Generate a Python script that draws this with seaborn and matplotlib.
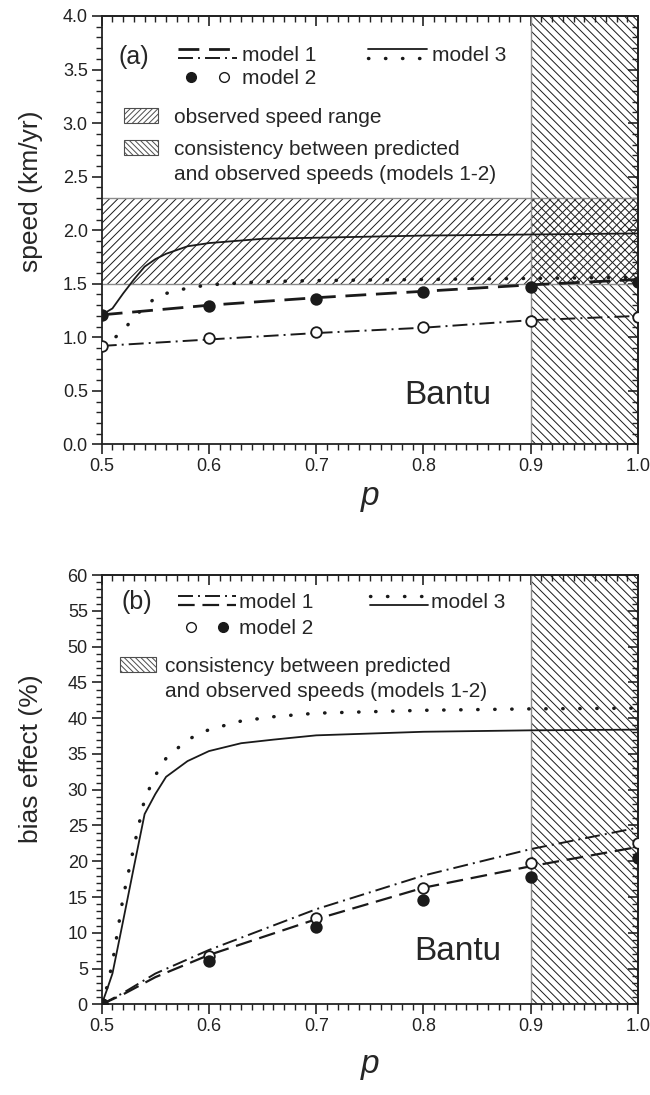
"""
Velocidad del frente (a) y efecto del sesgo (b) frente a p, caso Bantu.
"""
import matplotlib
matplotlib.use("Agg")
import matplotlib.pyplot as plt
import matplotlib.patches as mpatches
from matplotlib.lines import Line2D
from matplotlib.legend_handler import HandlerBase, HandlerTuple, HandlerPatch
from matplotlib.ticker import MultipleLocator
import seaborn as sns

# ============================================================
# DATOS
# ============================================================
p_marks = [0.5, 0.6, 0.7, 0.8, 0.9, 1.0]

# panel (a): speed (km/yr)
a_m1_dash = [1.21, 1.30, 1.37, 1.43, 1.49, 1.54]
a_m1_dashdot = [0.92, 0.98, 1.04, 1.09, 1.16, 1.20]
a_m2_filled = [1.21, 1.29, 1.36, 1.42, 1.47, 1.52]
a_m2_open = [0.92, 0.99, 1.05, 1.10, 1.15, 1.19]
a_m3_p = [0.5, 0.51, 0.52, 0.53, 0.54, 0.55, 0.56, 0.58, 0.6, 0.65, 0.7, 0.8, 0.9, 1.0]
a_m3_solid = [1.21, 1.27, 1.41, 1.54, 1.66, 1.73, 1.78, 1.85, 1.88, 1.92, 1.93, 1.95, 1.96, 1.97]
a_m3_dotted = [0.92, 0.98, 1.06, 1.19, 1.28, 1.37, 1.41, 1.46, 1.49, 1.52, 1.53, 1.54, 1.55, 1.56]
obs_speed = (1.5, 2.3)

# panel (b): bias effect (%)
b_m1_p = [0.5, 0.52, 0.55, 0.6, 0.7, 0.8, 0.9, 1.0]
b_m1_dashdot = [0, 1.6, 4.3, 7.6, 13.3, 18.0, 21.7, 24.7]
b_m1_dash = [0, 1.4, 3.8, 6.9, 11.9, 16.3, 19.3, 22.0]
b_m2_open = [0, 6.8, 12.0, 16.2, 19.7, 22.5]
b_m2_filled = [0, 6.0, 10.8, 14.6, 17.8, 20.5]
b_m3_p = [0.5, 0.505, 0.51, 0.52, 0.53, 0.54, 0.55, 0.56, 0.58, 0.6, 0.63, 0.66, 0.7, 0.8, 0.9, 1.0]
b_m3_dotted = [0, 2.5, 5.8, 15.0, 22.0, 28.7, 32.0, 34.4, 37.0, 38.4, 39.6, 40.2, 40.7, 41.1, 41.3, 41.4]
b_m3_solid = [0, 2.1, 4.3, 11.7, 19.2, 26.6, 29.4, 31.8, 34.0, 35.4, 36.5, 37.0, 37.6, 38.1, 38.3, 38.4]

consistency_p = (0.9, 1.0)

DASH = (0, (7.5, 3.5))
DASHDOT = (0, (7.7, 2.6, 1, 2.6))
DOT = (0, (0.1, 4.8))

# ============================================================
# ESTILO
# ============================================================
sns.set_theme(style="ticks")
plt.rcParams["font.family"] = ["Liberation Sans", "DejaVu Sans"]
plt.rcParams["hatch.linewidth"] = 0.7
plt.rcParams["axes.linewidth"] = 1.3


class StackedLines(HandlerBase):
    """Dibuja varias muestras de línea apiladas verticalmente."""
    def create_artists(self, legend, orig_handle, xdescent, ydescent,
                       width, height, fontsize, trans):
        arts = []
        n = len(orig_handle)
        for k, h in enumerate(orig_handle):
            y = height * (0.8 - 0.6 * k / max(n - 1, 1)) - ydescent
            ln = Line2D([-xdescent, width - xdescent], [y, y])
            ln.update_from(h)
            ln.set_transform(trans)
            arts.append(ln)
        return arts


def raised_box(legend, orig_handle, xdescent, ydescent, width, height, fontsize):
    return mpatches.Rectangle((-xdescent, -ydescent + 0.72 * fontsize), width, height)


def style_axes(ax, ymax, ymajor, yminor, xpad):
    ax.set_xlim(0.5, 1.0)
    ax.set_ylim(0, ymax)
    ax.xaxis.set_major_locator(MultipleLocator(0.1))
    ax.xaxis.set_minor_locator(MultipleLocator(0.01))
    ax.yaxis.set_major_locator(MultipleLocator(ymajor))
    ax.yaxis.set_minor_locator(MultipleLocator(yminor))
    ax.tick_params(which="major", direction="out", length=7, width=1.2,
                   labelsize=13, colors="#222222", pad=3)
    ax.tick_params(which="minor", direction="out", length=4, width=1.0, colors="#222222")
    for s in ax.spines.values():
        s.set_visible(True)
        s.set_color("#222222")
    # ejes espejo con marcas hacia dentro
    sx = ax.secondary_xaxis("top")
    sx.xaxis.set_major_locator(MultipleLocator(0.1))
    sx.xaxis.set_minor_locator(MultipleLocator(0.01))
    sx.tick_params(which="major", direction="in", length=7, width=1.2, labeltop=False, colors="#222222")
    sx.tick_params(which="minor", direction="in", length=4, width=1.0, colors="#222222")
    sy = ax.secondary_yaxis("right")
    sy.yaxis.set_major_locator(MultipleLocator(ymajor))
    sy.yaxis.set_minor_locator(MultipleLocator(yminor))
    sy.tick_params(which="major", direction="in", length=7, width=1.2, labelright=False, colors="#222222")
    sy.tick_params(which="minor", direction="in", length=4, width=1.0, colors="#222222")
    ax.set_xlabel("p", fontsize=24, style="italic", labelpad=xpad)


def line(ax, x, y, ls, lw):
    sns.lineplot(x=x, y=y, ax=ax, color="k", linestyle=ls, lw=lw,
                 dash_capstyle="round" if ls is DOT else "butt",
                 sort=False, estimator=None, zorder=3)


def dots(ax, y, filled):
    sns.scatterplot(x=p_marks, y=y, ax=ax, marker="o", s=58,
                    color="k" if filled else "white", edgecolor="k",
                    linewidth=1.3, zorder=5)


def dot_handle():
    return Line2D([], [], color="k", lw=2.5, linestyle=DOT, dash_capstyle="round")


fig = plt.figure(figsize=(6.5, 10.95), dpi=100)
ax_a = fig.add_axes([0.1565, 0.5941, 0.825, 0.3913])
ax_b = fig.add_axes([0.1565, 0.0828, 0.825, 0.3920])

leg_font = 15
hatch_obs = mpatches.Patch(facecolor="white", edgecolor="0.3", lw=0.8, hatch="//////")
hatch_con = mpatches.Patch(facecolor="white", edgecolor="0.3", lw=0.8, hatch="\\\\\\\\\\\\")

# ============================================================
# (a) VELOCIDAD
# ============================================================
ax = ax_a
ax.axhspan(*obs_speed, facecolor="none", edgecolor="k", lw=0, hatch="////", zorder=1)
ax.axvspan(*consistency_p, facecolor="none", edgecolor="k", lw=0, hatch="\\\\\\\\", zorder=1)
for yv in obs_speed:
    ax.axhline(yv, color="0.55", lw=1.0, zorder=2)
ax.axvline(consistency_p[0], color="0.55", lw=1.0, zorder=2)

line(ax, p_marks, a_m1_dash, DASH, 2.0)
line(ax, p_marks, a_m1_dashdot, DASHDOT, 1.4)
line(ax, a_m3_p, a_m3_solid, "-", 1.3)
line(ax, a_m3_p, a_m3_dotted, DOT, 2.5)
dots(ax, a_m2_filled, True)
dots(ax, a_m2_open, False)

style_axes(ax, 4.0, 0.5, 0.1, 4)
ax.yaxis.set_major_formatter(plt.FormatStrFormatter("%.1f"))
ax.set_ylabel("speed (km/yr)", fontsize=19)
ax.yaxis.set_label_coords(-0.11, 0.59)

ax.text(0.53, 3.62, "(a)", fontsize=18, ha="center", va="center")
ax.text(0.823, 0.46, "Bantu", fontsize=24, ha="center", va="center")

h_m1 = (Line2D([], [], color="k", lw=2.0, linestyle=DASH),
        Line2D([], [], color="k", lw=1.4, linestyle=DASHDOT))
h_m2 = (Line2D([], [], color="k", marker="o", ms=7, ls="none"),
        Line2D([], [], color="k", marker="o", ms=7, mfc="white", ls="none"))
h_m3 = (Line2D([], [], color="k", lw=1.3, linestyle="-"), dot_handle())
leg1 = ax.legend([h_m1, h_m2, h_m3], ["model 1", "model 2", "model 3"], ncol=2,
                 loc="upper left", bbox_to_anchor=(0.143, 0.93), borderpad=0,
                 borderaxespad=0, frameon=False, fontsize=leg_font, numpoints=1,
                 handlelength=2.8, handleheight=0.7, handletextpad=0.25,
                 columnspacing=2.5, labelspacing=0.2,
                 handler_map={h_m1: StackedLines(), h_m3: StackedLines(),
                              h_m2: HandlerTuple(ndivide=None, pad=0.3)})
ax.add_artist(leg1)
leg2 = ax.legend([hatch_obs, hatch_con],
                 ["observed speed range",
                  "consistency between predicted\nand observed speeds (models 1-2)"],
                 loc="upper left", bbox_to_anchor=(0.042, 0.785), borderpad=0,
                 borderaxespad=0, frameon=False, fontsize=leg_font,
                 handlelength=1.6, handleheight=0.75, handletextpad=0.8,
                 labelspacing=0.6,
                 handler_map={hatch_con: HandlerPatch(patch_func=raised_box)})
for t in leg2.get_texts():
    t.set_linespacing(1.45)

# ============================================================
# (b) EFECTO DEL SESGO
# ============================================================
ax = ax_b
ax.axvspan(*consistency_p, facecolor="none", edgecolor="k", lw=0, hatch="\\\\\\\\", zorder=1)
ax.axvline(consistency_p[0], color="0.55", lw=1.0, zorder=2)

line(ax, b_m1_p, b_m1_dashdot, DASHDOT, 1.4)
line(ax, b_m1_p, b_m1_dash, DASH, 1.6)
line(ax, b_m3_p, b_m3_solid, "-", 1.3)
line(ax, b_m3_p, b_m3_dotted, DOT, 2.5)
dots(ax, b_m2_open, False)
dots(ax, b_m2_filled, True)

style_axes(ax, 60, 5, 1, 10)
ax.set_ylabel("bias effect (%)", fontsize=19)
ax.yaxis.set_label_coords(-0.11, 0.573)

ax.text(0.533, 56.2, "(b)", fontsize=18, ha="center", va="center")
ax.text(0.832, 7.4, "Bantu", fontsize=24, ha="center", va="center")

g_m1 = (Line2D([], [], color="k", lw=1.4, linestyle=DASHDOT),
        Line2D([], [], color="k", lw=1.6, linestyle=DASH))
g_m2 = (Line2D([], [], color="k", marker="o", ms=7, mfc="white", ls="none"),
        Line2D([], [], color="k", marker="o", ms=7, ls="none"))
g_m3 = (dot_handle(), Line2D([], [], color="k", lw=1.3, linestyle="-"))
leg3 = ax.legend([g_m1, g_m2, g_m3], ["model 1", "model 2", "model 3"], ncol=2,
                 loc="upper left", bbox_to_anchor=(0.142, 0.958), borderpad=0,
                 borderaxespad=0, frameon=False, fontsize=leg_font, numpoints=1,
                 handlelength=2.8, handleheight=0.7, handletextpad=0.15,
                 columnspacing=2.7, labelspacing=0.35,
                 handler_map={g_m1: StackedLines(), g_m3: StackedLines(),
                              g_m2: HandlerTuple(ndivide=None, pad=0.3)})
ax.add_artist(leg3)
leg4 = ax.legend([hatch_con], ["consistency between predicted\nand observed speeds (models 1-2)"],
                 loc="upper left", bbox_to_anchor=(0.034, 0.81), borderpad=0,
                 borderaxespad=0, frameon=False, fontsize=leg_font,
                 handlelength=1.75, handleheight=0.75, handletextpad=0.4,
                 handler_map={hatch_con: HandlerPatch(patch_func=raised_box)})
for t in leg4.get_texts():
    t.set_linespacing(1.45)

fig.savefig("out.png", dpi=100)
plt.close(fig)
